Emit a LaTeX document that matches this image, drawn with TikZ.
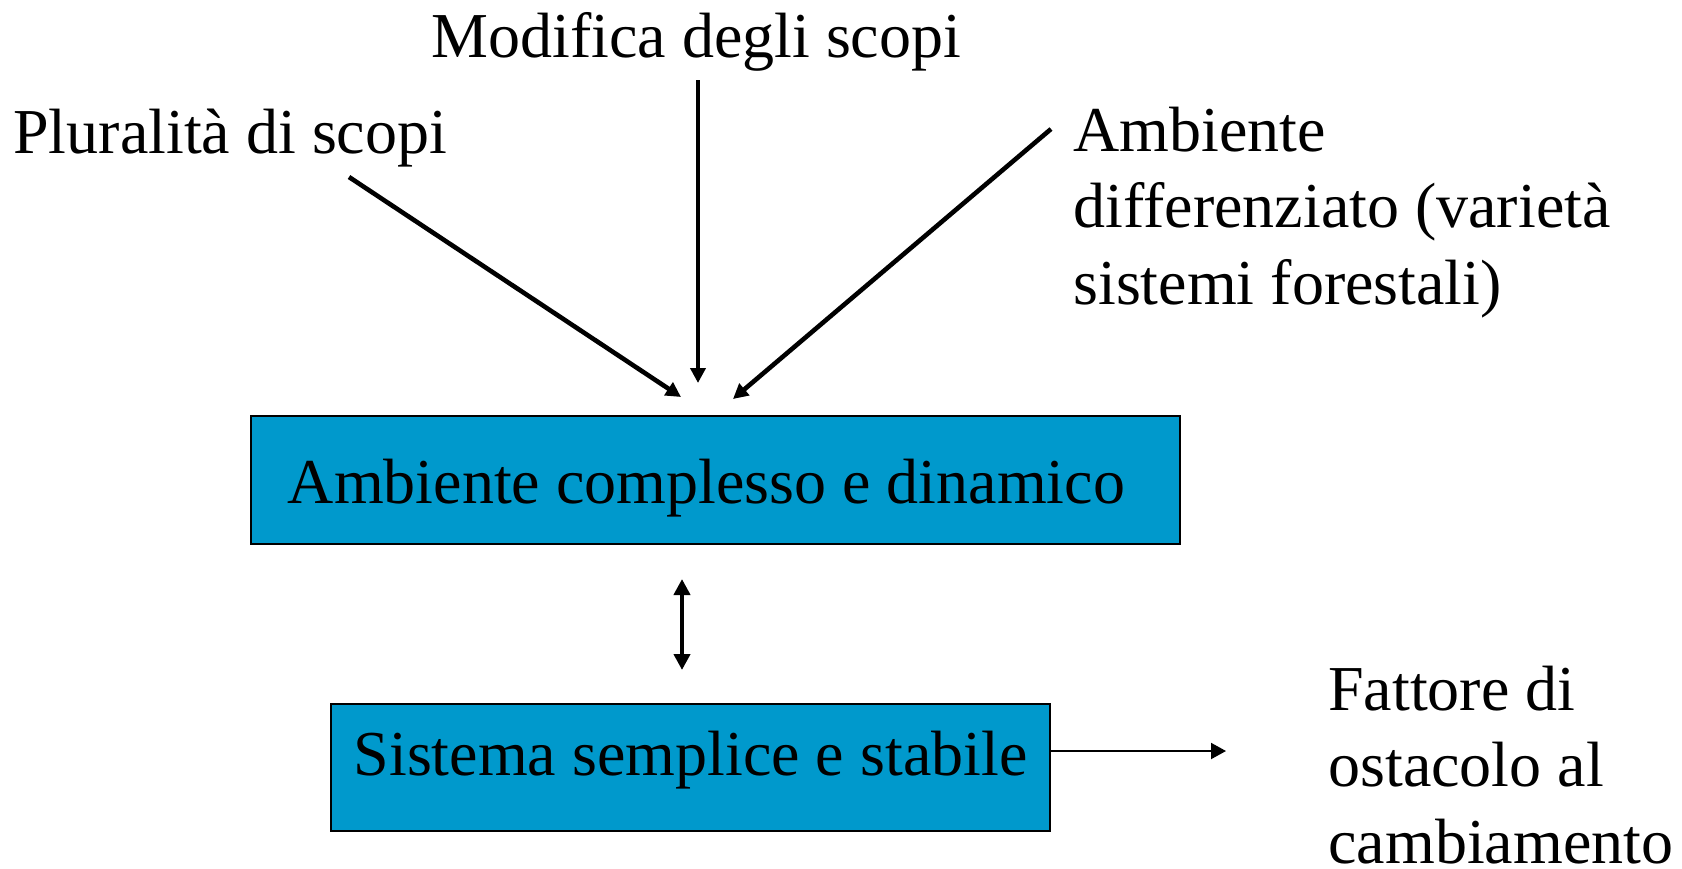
\documentclass[tikz,border=0pt]{standalone}
\usepackage{fontspec}
\setmainfont{Liberation Serif}
\usetikzlibrary{arrows.meta,positioning}
\definecolor{boxcolor}{RGB}{0,153,204}

\begin{document}
\begin{tikzpicture}[x=0.5pt, y=-0.5pt, >={Triangle[length=7.5pt,width=7.5pt]},
    every node/.style={font=\fontsize{32}{38.25}\selectfont, inner sep=0pt},
    txt/.style={anchor=base west, align=left},
    blockbox/.style={draw, line width=1pt, fill=boxcolor},
    bigarrow/.style={->, line width=2.3pt}]

    \useasboundingbox (0,0) rectangle (1682,868);

    % Cause in alto
    \node[txt] (modifica) at (431,57) {Modifica degli scopi};
    \node[txt] (pluralita) at (13,153) {Pluralità di scopi};
    \node[txt] (differenziato) at (1073,304) {Ambiente\\differenziato (varietà\\sistemi forestali)};

    % Blocchi
    \node[blockbox, minimum width=464.5pt, minimum height=64pt,
        text height=28pt, text depth=5pt] (ambiente) at (715.5,480) {\hspace*{-9pt}Ambiente complesso e dinamico};
    \node[blockbox, minimum width=359.5pt, minimum height=63.5pt,
        text height=17pt, text depth=9.5pt] (sistema) at (690.5,767.5) {Sistema semplice e stabile};

    % Effetto
    \node[txt] (fattore) at (1328,863) {Fattore di\\ostacolo al\\cambiamento};

    % Estremi delle frecce
    \coordinate (plurA) at (349,177);
    \coordinate (plurB) at (681,397);
    \coordinate (modA) at (698,80);
    \coordinate (modB) at (698,383);
    \coordinate (diffA) at (1051,129);
    \coordinate (diffB) at (733,399);
    \coordinate (dblA) at (682,579);
    \coordinate (dblB) at (682,670);
    \coordinate (fattA) at (1226,751);

    % Frecce
    \draw[bigarrow] (plurA) -- (plurB);
    \draw[bigarrow] (modA) -- (modB);
    \draw[bigarrow, <->, >={Triangle[length=8pt,width=8pt]}] (dblA) -- (dblB);
    \draw[bigarrow] (diffA) -- (diffB);
    \draw[->, >={Triangle[length=7.5pt,width=8pt]}, line width=1pt] (sistema.east |- fattA) -- (fattA);
\end{tikzpicture}
\end{document}
